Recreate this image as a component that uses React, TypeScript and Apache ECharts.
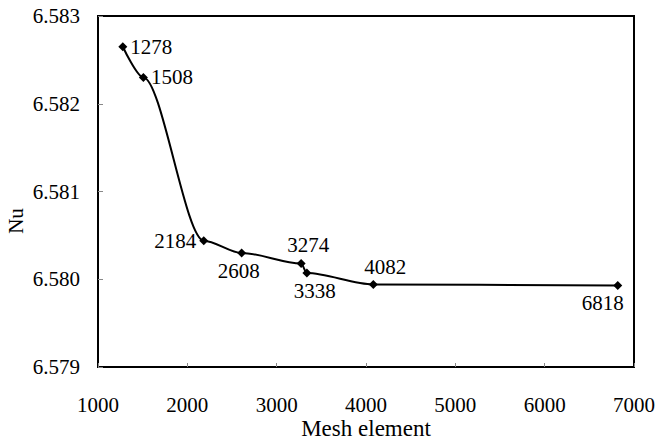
import React, { useEffect, useRef } from "react";
import * as echarts from "echarts";

const meshElements = [1278, 1508, 2184, 2608, 3274, 3338, 4082, 6818];
const nuValues = [6.58265, 6.5823, 6.58044, 6.5803, 6.58018, 6.58007, 6.57994, 6.57993];
const xTicks = [1000, 2000, 3000, 4000, 5000, 6000, 7000];
const yTicks = [6.579, 6.58, 6.581, 6.582, 6.583];
const yTitle = "Nu";
const xTitle = "Mesh element";

// label placement (style only)
const labelPositions = ["right", "right", "left", "bottom", "top", "bottom", "top", "bottom"];
const labelOffsets = [[0, 0], [0, 0], [0, 0], [-3, 0], [7, 0], [8, 0], [12, 0], [-15, 0]];

const FONT = "'Liberation Serif', 'DejaVu Serif', serif";

export default function App() {
  const ref = useRef<HTMLDivElement>(null);
  useEffect(() => {
    if (!ref.current) return;
    const chart = echarts.init(ref.current, undefined, { renderer: "svg" });
    chart.setOption({
      animation: false,
      backgroundColor: "#ffffff",
      textStyle: { fontFamily: FONT },
      grid: {
        left: 98,
        right: 27,
        top: 16,
        bottom: 76,
        show: true,
        borderColor: "#000",
        borderWidth: 2,
        backgroundColor: "transparent",
        outerBoundsMode: "none",
      },
      graphic: [
        {
          type: "text",
          x: 16,
          y: 221,
          rotation: Math.PI / 2,
          style: {
            text: yTitle,
            fontFamily: FONT,
            fontSize: 21,
            fill: "#000",
            align: "center",
            verticalAlign: "middle",
          },
        },
        {
          type: "text",
          x: 366,
          y: 428,
          style: {
            text: xTitle,
            fontFamily: FONT,
            fontSize: 23,
            fill: "#000",
            align: "center",
            verticalAlign: "middle",
          },
        },
      ],
      xAxis: {
        type: "value",
        min: xTicks[0],
        max: xTicks[xTicks.length - 1],
        interval: 1000,
        axisLine: { show: true, lineStyle: { color: "#000", width: 2 } },
        axisTick: { show: true, inside: true, length: 4, lineStyle: { color: "#888" } },
        axisLabel: {
          fontFamily: FONT,
          fontSize: 21,
          color: "#000",
          margin: 27,
          formatter: (v: number) => String(v),
        },
        splitLine: { show: false },
      },
      yAxis: {
        type: "value",
        min: yTicks[0],
        max: yTicks[yTicks.length - 1],
        interval: 0.001,
        axisLine: { show: true, lineStyle: { color: "#000", width: 2 } },
        axisTick: { show: true, inside: true, length: 5, lineStyle: { color: "#888" } },
        axisLabel: {
          fontFamily: FONT,
          fontSize: 21,
          color: "#000",
          margin: 18,
          formatter: (v: number) => v.toFixed(3),
        },
        splitLine: { show: false },
      },
      series: [
        {
          type: "line",
          smooth: 0.3,
          smoothMonotone: "x",
          symbol: "diamond",
          symbolSize: 9,
          itemStyle: { color: "#000" },
          lineStyle: { color: "#000", width: 2 },
          data: meshElements.map((x, i) => ({
            value: [x, nuValues[i]],
            label: {
              show: true,
              position: labelPositions[i],
              offset: labelOffsets[i],
              distance: 3,
              formatter: String(x),
              fontFamily: FONT,
              fontSize: 21,
              color: "#000",
            },
          })),
        },
      ],
    });
    return () => chart.dispose();
  }, []);
  return (
    <div
      ref={ref}
      style={{ position: "fixed", left: 0, top: 0, width: 661, height: 443 }}
    />
  );
}
